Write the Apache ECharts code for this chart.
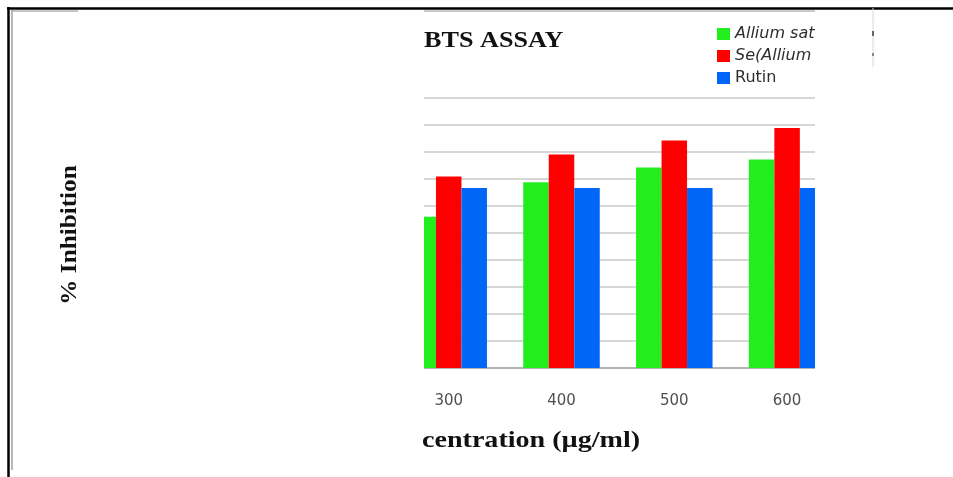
<!DOCTYPE html>
<html>
<head>
<meta charset="utf-8">
<script src="https://cdn.jsdelivr.net/npm/echarts@6/dist/echarts.min.js"></script>
<style>
  html, body { margin: 0; padding: 0; background: #ffffff; }
  #chart { width: 953px; height: 477px; }
</style>
</head>
<body>
<div id="chart"></div>
<script>
// Concentrations tested (µg/ml)
const categories = ['300', '400', '500', '600'];
// % inhibition in the ABTS assay
const alliumSativum = [56.0, 68.8, 74.3, 77.2];
const seAlliumSativum = [70.9, 79.1, 84.3, 88.9];
const rutin = [66.7, 66.7, 66.7, 66.7];
const seriesNames = ['Allium sativum', 'Se(Allium sativum)', 'Rutin'];
const seriesColors = ['#22EE1E', '#FF0000', '#0066F8'];
const yTicks = { min: 0, max: 100, interval: 10 };

const chart = echarts.init(document.getElementById('chart'), null, { renderer: 'canvas' });

const serifBold = '"Liberation Serif", "Times New Roman", serif';
const sans = '"DejaVu Sans", "Open Sans", sans-serif';

function barSeries(name, values, color) {
  return {
    name: name,
    type: 'bar',
    data: values,
    barWidth: 25.5,
    barGap: '0%',
    itemStyle: { color: color },
    emphasis: { disabled: true }
  };
}

const option = {
  animation: false,
  backgroundColor: '#ffffff',
  grid: { left: 392.3, right: 109.5, top: 98, bottom: 109, containLabel: false },
  legend: {
    orient: 'vertical',
    left: 712,
    top: 21,
    itemWidth: 13,
    itemHeight: 12,
    itemGap: 6,
    icon: 'rect',
    selectedMode: false,
    textStyle: {
      fontFamily: sans,
      fontSize: 16,
      color: '#2e2e2e',
      width: 84,
      overflow: 'truncate',
      ellipsis: ''
    },
    data: [
      { name: seriesNames[0], textStyle: { fontStyle: 'italic' } },
      { name: seriesNames[1], textStyle: { fontStyle: 'italic' } },
      { name: seriesNames[2] }
    ]
  },
  xAxis: {
    type: 'category',
    data: categories,
    axisTick: { show: false },
    axisLine: { show: true, lineStyle: { color: '#b4b4b4', width: 2 } },
    axisLabel: { margin: 26, fontFamily: sans, fontSize: 15, color: '#505050' }
  },
  yAxis: {
    type: 'value',
    min: yTicks.min,
    max: yTicks.max,
    interval: yTicks.interval,
    axisLabel: { show: false },
    axisLine: { show: false },
    axisTick: { show: false },
    splitLine: { show: true, lineStyle: { color: '#c8c8c8', width: 1.5 } }
  },
  series: [
    barSeries(seriesNames[0], alliumSativum, seriesColors[0]),
    barSeries(seriesNames[1], seAlliumSativum, seriesColors[1]),
    barSeries(seriesNames[2], rutin, seriesColors[2])
  ],
  graphic: [
    // white panels framing the plot window
    { type: 'rect', z: 100, shape: { x: 370, y: 88, width: 54, height: 290 }, style: { fill: '#ffffff' } },
    { type: 'rect', z: 100, shape: { x: 815, y: 88, width: 60, height: 290 }, style: { fill: '#ffffff' } },
    // page frame
    { type: 'line', z: 110, shape: { x1: 7, y1: 8.5, x2: 953, y2: 8.5 }, style: { stroke: '#000000', lineWidth: 2.5 } },
    { type: 'line', z: 110, shape: { x1: 8.5, y1: 7, x2: 8.5, y2: 477 }, style: { stroke: '#000000', lineWidth: 2.5 } },
    { type: 'line', z: 110, shape: { x1: 12, y1: 10, x2: 12, y2: 470 }, style: { stroke: '#a0a0a0', lineWidth: 1.5 } },
    { type: 'line', z: 110, shape: { x1: 11, y1: 11, x2: 78, y2: 11 }, style: { stroke: '#b0b0b0', lineWidth: 1.5 } },
    { type: 'line', z: 110, shape: { x1: 424, y1: 11, x2: 815, y2: 11 }, style: { stroke: '#b8b8b8', lineWidth: 1.5 } },
    { type: 'line', z: 110, shape: { x1: 873, y1: 8, x2: 873, y2: 67 }, style: { stroke: '#d8d8d8', lineWidth: 1 } },
    { type: 'rect', z: 110, shape: { x: 872, y: 31, width: 2, height: 5 }, style: { fill: '#666666' } },
    { type: 'rect', z: 110, shape: { x: 872, y: 53, width: 2, height: 3 }, style: { fill: '#888888' } },
    // titles
    {
      type: 'text', z: 120, x: 424, y: 41, scaleX: 1.09,
      style: { text: 'BTS ASSAY', x: 0, y: 0, align: 'left', verticalAlign: 'middle',
               font: 'bold 24px ' + serifBold, fill: '#111111' }
    },
    {
      type: 'text', z: 120, x: 422, y: 441, scaleX: 1.17,
      style: { text: 'centration (µg/ml)', x: 0, y: 0, align: 'left', verticalAlign: 'middle',
               font: 'bold 24px ' + serifBold, fill: '#111111' }
    },
    {
      type: 'text', z: 120, x: 70, y: 235, rotation: Math.PI / 2, scaleX: 1.05,
      style: { text: '% Inhibition', x: 0, y: 0, align: 'center', verticalAlign: 'middle',
               font: 'bold 24px ' + serifBold, fill: '#111111' }
    }
  ]
};

chart.setOption(option);
</script>
</body>
</html>
